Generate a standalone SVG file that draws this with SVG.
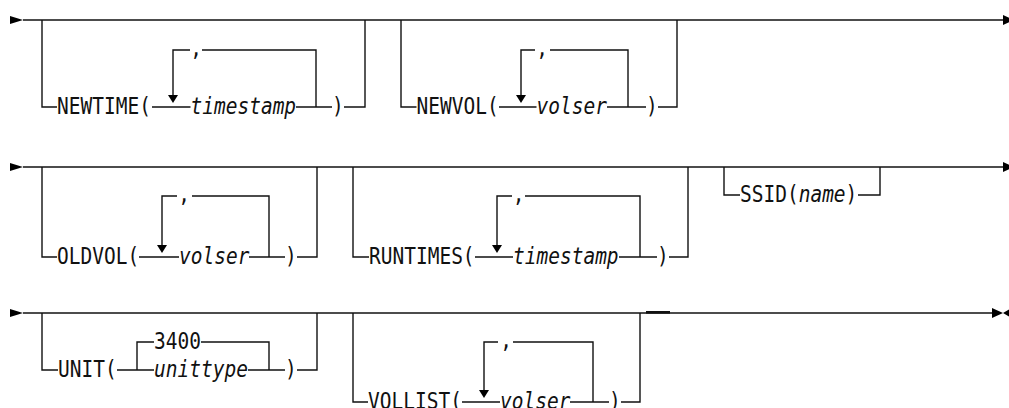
<svg xmlns="http://www.w3.org/2000/svg" width="1009" height="408" viewBox="0 0 1009 408">
<style>
.ln{stroke:#111;stroke-width:1.4;fill:none}
.ah{fill:#000}
.t{font-family:"DejaVu Sans Mono","Liberation Mono",monospace;font-size:19.5px;fill:#111}
.v{font-style:italic}
.c{text-anchor:middle}
</style>
<rect width="1009" height="408" fill="#fff"/>
<g id="connectors">
<path class="ln" d="M23,20 H1003"/>
<polygon class="ah" points="10,16 23,20 10,24"/>
<polygon class="ah" points="1003,15 1014,20 1003,25"/>
<path class="ln" d="M42,20 V107 H57 M152,107 H190.5 M296,107 H332 M344,107 H365 V20"/>
<path class="ln" d="M173,96 V50 H190 M202,50 H316 V107"/>
<polygon class="ah" points="168,95 178,95 173,103"/>
<path class="ln" d="M401,20 V107 H416.5 M499,107 H536.5 M607,107 H646 M658,107 H677 V20"/>
<path class="ln" d="M521,96 V50 H535 M550,50 H628 V107"/>
<polygon class="ah" points="516,95 526,95 521,103"/>
<path class="ln" d="M23,167 H1003"/>
<polygon class="ah" points="10,163 23,167 10,171"/>
<polygon class="ah" points="1003,162 1014,167 1003,172"/>
<path class="ln" d="M42,167 V257 H57 M139,257 H179 M249,257 H285 M297,257 H317 V167"/>
<path class="ln" d="M162,246 V196 H177 M192,196 H269 V257"/>
<polygon class="ah" points="157,245 167,245 162,253"/>
<path class="ln" d="M353,167 V257 H369 M475,257 H513 M619,257 H657 M669,257 H688 V167"/>
<path class="ln" d="M497,246 V196 H512 M525,196 H640 V257"/>
<polygon class="ah" points="492,245 502,245 497,253"/>
<path class="ln" d="M724,167 V195 H740 M858,195 H880 V167"/>
<path class="ln" d="M23,313 H992"/>
<polygon class="ah" points="10,309 23,313 10,317"/>
<polygon class="ah" points="992,308 1003,313 992,318"/>
<polygon class="ah" points="1010,309 1003,313 1010,317"/>
<path class="ln" d="M42,313 V370 H58 M117,370 H154 M137,370 V342 H154 M201,342 H269 V370 M248,370 H285 M297,370 H317 V313"/>
<path class="ln" d="M353,313 V402 H368 M462,402 H500 M570,402 H609 M621,402 H640 V313"/>
<path class="ln" d="M484,391 V342 H498 M513,342 H593 V402"/>
<polygon class="ah" points="479,390 489,390 484,398"/>
<rect x="646" y="311" width="24" height="2.6" fill="#111"/>
</g>
<g id="newtime">
<text class="t" transform="translate(57,114) scale(1,1.15)">NEWTIME(</text>
<text class="t v" transform="translate(190.5,114) scale(1,1.15)">timestamp</text>
<text class="t" transform="translate(332,114) scale(1,1.15)">)</text>
<text class="t c" transform="translate(196,56) scale(1,1.15)">,</text>
</g>
<g id="newvol">
<text class="t" transform="translate(416.5,114) scale(1,1.15)">NEWVOL(</text>
<text class="t v" transform="translate(536.5,114) scale(1,1.15)">volser</text>
<text class="t" transform="translate(646,114) scale(1,1.15)">)</text>
<text class="t c" transform="translate(542,56) scale(1,1.15)">,</text>
</g>
<g id="oldvol">
<text class="t" transform="translate(57,264) scale(1,1.15)">OLDVOL(</text>
<text class="t v" transform="translate(179,264) scale(1,1.15)">volser</text>
<text class="t" transform="translate(285,264) scale(1,1.15)">)</text>
<text class="t c" transform="translate(184,202) scale(1,1.15)">,</text>
</g>
<g id="runtimes">
<text class="t" transform="translate(369,264) scale(1,1.15)">RUNTIMES(</text>
<text class="t v" transform="translate(513,264) scale(1,1.15)">timestamp</text>
<text class="t" transform="translate(657,264) scale(1,1.15)">)</text>
<text class="t c" transform="translate(518.5,202) scale(1,1.15)">,</text>
</g>
<g id="ssid">
<text class="t" transform="translate(740,202) scale(1,1.15)">SSID(<tspan class="v">name</tspan>)</text>
</g>
<g id="unit">
<text class="t" transform="translate(58,377) scale(1,1.15)">UNIT(</text>
<text class="t" transform="translate(154,349) scale(1,1.15)">3400</text>
<text class="t v" transform="translate(154,377) scale(1,1.15)">unittype</text>
<text class="t" transform="translate(285,377) scale(1,1.15)">)</text>
</g>
<g id="vollist">
<text class="t" transform="translate(368,409) scale(1,1.15)">VOLLIST(</text>
<text class="t v" transform="translate(500,409) scale(1,1.15)">volser</text>
<text class="t" transform="translate(609,409) scale(1,1.15)">)</text>
<text class="t c" transform="translate(506,348) scale(1,1.15)">,</text>
</g>
</svg>
